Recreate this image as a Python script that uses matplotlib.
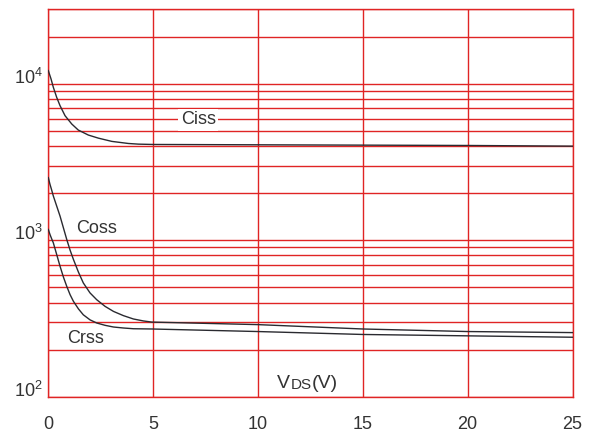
import matplotlib
matplotlib.use('Agg')
import matplotlib.pyplot as plt
from matplotlib.ticker import LogLocator, NullFormatter, FixedLocator, FixedFormatter

plt.rcParams['font.family'] = ['Liberation Sans', 'DejaVu Sans']

# capacitance (pF) vs VDS (V)
vds_iss = [0, 0.13, 0.24, 0.40, 0.56, 0.80, 1.12, 1.43, 1.91, 2.39, 3.03, 3.82, 4.30, 5, 10, 15, 20, 25]
ciss = [12170, 10770, 9520, 8210, 7260, 6260, 5540, 5070, 4710, 4500, 4290, 4160, 4120, 4100,
        4080, 4060, 4040, 4000]

vds_oss = [0, 0.08, 0.16, 0.24, 0.40, 0.56, 0.72, 0.88, 1.04, 1.20, 1.44, 1.67, 1.99, 2.31,
           2.71, 3.11, 3.58, 4.06, 4.54, 4.94, 10, 15, 20, 25]
coss = [2518, 2282, 2099, 1921, 1657, 1429, 1203, 1013, 865, 754, 625, 534, 461, 417,
        378, 351, 330, 314, 305, 300, 289, 271, 261, 257]

vds_rss = [0, 0.08, 0.16, 0.24, 0.40, 0.56, 0.72, 0.88, 1.04, 1.20, 1.44, 1.67, 1.99, 2.31,
           2.71, 3.11, 3.58, 4.06, 4.94, 10, 15, 20, 25]
crss = [1174, 1090, 1023, 964, 812, 683, 583, 508, 449, 407, 364, 334, 310, 296,
        286, 279, 275, 272, 271, 261, 250, 245, 240]

ytick_vals = [1e2, 1e3, 1e4]
ytick_labels = [r'$\mathregular{10^{2}}$', r'$\mathregular{10^{3}}$', r'$\mathregular{10^{4}}$']
xtick_vals = [0, 5, 10, 15, 20, 25]

red = '#e02424'
txt = '#333333'
curve = '#2a2a30'

fig = plt.figure(figsize=(5.91, 4.32), dpi=100)
ax = fig.add_axes([0.0817, 0.0817, 0.9687 - 0.0817, 0.9785 - 0.0817])

ax.plot(vds_iss, ciss, color=curve, lw=1.0, zorder=3)
ax.plot(vds_oss, coss, color=curve, lw=1.0, zorder=3)
ax.plot(vds_rss, crss, color=curve, lw=1.0, zorder=3)

ax.set_yscale('log')
ax.set_xlim(0, 25)
ax.set_ylim(100, 30000)

ax.xaxis.set_major_locator(FixedLocator(xtick_vals))
ax.yaxis.set_major_locator(FixedLocator(ytick_vals))
ax.yaxis.set_major_formatter(FixedFormatter(ytick_labels))
ax.yaxis.set_minor_locator(LogLocator(base=10, subs=range(2, 10)))
ax.yaxis.set_minor_formatter(NullFormatter())

ax.grid(True, which='both', axis='y', color=red, lw=1.0)
ax.grid(True, which='major', axis='x', color=red, lw=1.0)
ax.set_axisbelow(True)
for s in ax.spines.values():
    s.set_color(red)
    s.set_linewidth(1.0)

ax.tick_params(axis='both', which='both', length=0, labelsize=13, labelcolor=txt)
ax.tick_params(axis='x', pad=14)
ax.tick_params(axis='y', pad=4)
for lab in ax.get_yticklabels():
    lab.set_verticalalignment('baseline')

# curve labels
ax.text(7.15, 5900, 'Ciss', fontsize=13, color=txt, ha='center', va='center', zorder=4,
        bbox=dict(boxstyle='square,pad=0.15', fc='white', ec='none'))
ax.text(2.31, 1118, 'Coss', fontsize=13, color=txt, ha='center', va='baseline', zorder=4)
ax.text(1.79, 222, 'Crss', fontsize=13, color=txt, ha='center', va='baseline', zorder=4)

# axis label V_DS(V) with smaller letters for DS
t1 = ax.text(10.92, 113, 'V', fontsize=14, color=txt, ha='left', va='baseline', zorder=4)
t2 = ax.annotate('DS', xy=(1, 0), xycoords=t1, fontsize=11, color=txt, ha='left', va='bottom', zorder=4)
ax.annotate('(V)', xy=(1, 0), xycoords=t2, fontsize=14, color=txt, ha='left', va='bottom', zorder=4)

fig.savefig('out.png', dpi=100)
